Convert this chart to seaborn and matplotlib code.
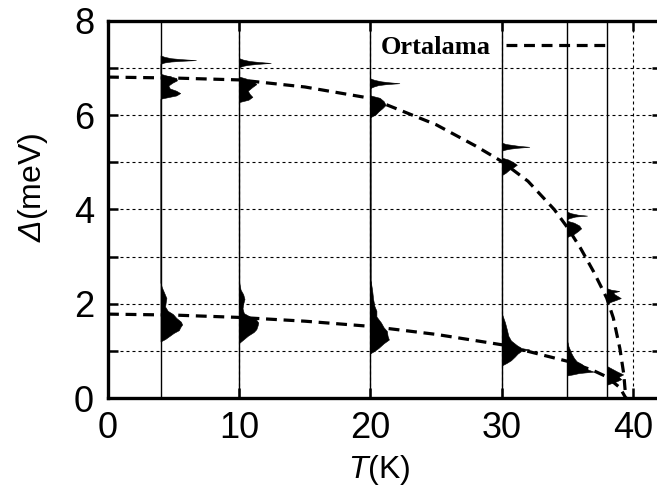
import matplotlib
matplotlib.use("Agg")
import matplotlib.pyplot as plt
import seaborn as sns

# ---- data ----
big_T = [0, 5, 10, 15, 20, 25, 28, 30, 32, 34, 35, 36, 37, 38, 38.5, 39, 39.3, 39.45]
big_gap = [6.81, 6.79, 6.75, 6.6, 6.36, 5.8, 5.35, 5.02, 4.6, 4.0, 3.62, 3.18, 2.68, 2.12, 1.7, 1.05, 0.5, 0.0]
small_T = [0, 5, 10, 15, 20, 25, 30, 33, 35, 37, 38, 39, 39.45]
small_gap = [1.78, 1.76, 1.71, 1.63, 1.52, 1.35, 1.13, 0.92, 0.78, 0.58, 0.45, 0.22, 0.0]

temps = [4, 10, 20, 30, 35, 38]

# gap distributions at each temperature: gap value (meV) and bar length (K)
d4 = [7.27, 7.24, 7.21, 7.19, 7.17, 7.155, 7.14, 7.12, 7.09,
      6.88, 6.84, 6.79, 6.74, 6.69, 6.63, 6.57, 6.52, 6.47, 6.42, 6.38, 6.35,
      2.45, 2.35, 2.22, 2.12, 2.04, 1.94, 1.85, 1.78, 1.70, 1.62, 1.56, 1.50, 1.44, 1.38, 1.32, 1.25, 1.20]
w4 = [0, 0.3, 0.8, 1.6, 2.7, 1.6, 0.8, 0.3, 0,
      0, 0.5, 1.2, 1.25, 0.9, 0.6, 0.7, 1.2, 1.5, 1.2, 0.5, 0,
      0, 0.1, 0.3, 0.45, 0.4, 0.35, 0.55, 0.95, 1.2, 1.55, 1.65, 1.5, 1.4, 1.0, 0.7, 0.35, 0]
d10 = [7.21, 7.18, 7.15, 7.13, 7.11, 7.09, 7.07, 7.05, 7.02,
       6.82, 6.78, 6.72, 6.66, 6.60, 6.52, 6.45, 6.39, 6.33, 6.28,
       2.45, 2.3, 2.2, 2.1, 2.0, 1.9, 1.8, 1.73, 1.66, 1.60, 1.54, 1.46, 1.40, 1.32, 1.25, 1.17]
w10 = [0, 0.3, 0.8, 1.5, 2.4, 1.4, 0.7, 0.3, 0,
       0, 0.5, 1.1, 1.3, 1.0, 0.65, 0.8, 1.0, 0.7, 0,
       0, 0.1, 0.3, 0.4, 0.3, 0.25, 0.35, 0.8, 1.3, 1.45, 1.4, 1.3, 1.1, 0.65, 0.35, 0]
d20 = [6.78, 6.75, 6.72, 6.70, 6.68, 6.66, 6.64, 6.61, 6.58,
       6.42, 6.37, 6.30, 6.22, 6.15, 6.08, 6.02, 5.96,
       2.5, 2.3, 2.1, 1.95, 1.85, 1.73, 1.6, 1.5, 1.42, 1.32, 1.24, 1.16, 1.06, 1.0, 0.95]
w20 = [0, 0.3, 0.8, 1.4, 2.2, 1.2, 0.6, 0.25, 0,
       0, 0.7, 1.0, 1.15, 0.9, 0.6, 0.4, 0,
       0, 0.12, 0.2, 0.3, 0.45, 0.45, 0.8, 1.0, 1.25, 1.3, 1.4, 1.0, 0.6, 0.3, 0]
d30 = [5.42, 5.39, 5.37, 5.35, 5.33, 5.31, 5.29, 5.27, 5.25,
       5.10, 5.06, 5.00, 4.95, 4.90, 4.84, 4.78, 4.73,
       1.8, 1.72, 1.6, 1.44, 1.32, 1.22, 1.12, 1.06, 1.03, 1.0, 0.94, 0.88, 0.80, 0.74, 0.69]
w30 = [0, 0.3, 0.8, 1.3, 2.1, 1.2, 0.6, 0.25, 0,
       0, 0.5, 0.9, 1.15, 0.9, 0.55, 0.3, 0,
       0, 0.1, 0.25, 0.4, 0.5, 0.7, 1.15, 1.5, 2.1, 1.5, 1.2, 1.0, 0.7, 0.35, 0]
d35 = [3.95, 3.92, 3.89, 3.87, 3.85, 3.82, 3.80,
       3.76, 3.72, 3.66, 3.60, 3.54, 3.48, 3.42,
       1.2, 1.1, 0.95, 0.85, 0.78, 0.72, 0.66, 0.60, 0.56, 0.53, 0.50, 0.48]
w35 = [0, 0.3, 0.8, 1.5, 0.6, 0.2, 0,
       0, 0.5, 0.9, 1.05, 0.8, 0.5, 0,
       0, 0.08, 0.3, 0.5, 0.7, 1.1, 1.3, 1.6, 2.0, 0.9, 0.4, 0]
d38 = [2.33, 2.30, 2.27, 2.24, 2.20, 2.15, 2.12, 2.08, 2.04, 2.0,
       0.68, 0.62, 0.56, 0.50, 0.45, 0.40, 0.36, 0.32, 0.28]
w38 = [0, 0.3, 0.95, 0.5, 0.6, 0.9, 1.07, 0.7, 0.3, 0,
       0, 0.4, 0.8, 1.25, 0.9, 1.1, 0.8, 0.4, 0]

gap_lists = [d4, d10, d20, d30, d35, d38]
width_lists = [w4, w10, w20, w30, w35, w38]

x_ticks = [0, 10, 20, 30, 40]
y_ticks = [0, 2, 4, 6, 8]
y_minor = [1, 3, 5, 7]
legend_label = "Ortalama"

# ---- style ----
sns.set_style("ticks")
plt.rcParams["font.family"] = ["Liberation Sans", "DejaVu Sans"]
plt.rcParams["mathtext.fontset"] = "custom"
plt.rcParams["mathtext.rm"] = "Liberation Sans:italic"
plt.rcParams["mathtext.it"] = "Liberation Sans:italic"
for key in ["text.color", "axes.labelcolor", "xtick.color", "ytick.color", "axes.edgecolor"]:
    plt.rcParams[key] = "black"

fig = plt.figure(figsize=(6.57, 4.95), dpi=100)
ax = fig.add_axes([108 / 657, 97 / 495, 554 / 657, 377 / 495])

grid_ls = (0, (2.7, 2.7))
ax.set_axisbelow(True)

# vertical baselines at measured temperatures
for T in temps:
    ax.axvline(T, color="black", lw=1.0, zorder=2)

# distributions
for T, d, w in zip(temps, gap_lists, width_lists):
    ax.fill_betweenx(d, T, [T + v for v in w], color="black", lw=0.4, zorder=3)

# mean curves
dash = (0, (3.4, 2.1))
sns.lineplot(x=big_T, y=big_gap, ax=ax, color="black", lw=2.3, linestyle=dash,
             label=legend_label, sort=False, zorder=4)
sns.lineplot(x=small_T, y=small_gap, ax=ax, color="black", lw=2.3, linestyle=dash,
             sort=False, zorder=4)

ax.set_xlim(0, 554 / 13.125)
ax.set_ylim(0, 8)
ax.set_xticks(x_ticks)
ax.set_yticks(y_ticks)
ax.set_yticks(y_minor, minor=True)
ax.grid(which="both", axis="y", color="black", lw=0.8, ls=grid_ls)
ax.grid(which="major", axis="x", color="black", lw=0.8, ls=grid_ls)

for s in ax.spines.values():
    s.set_linewidth(2.4)
    s.set_visible(True)
    s.set_color("black")

ax.tick_params(which="both", direction="in", top=True, right=True,
               length=7, width=1.8, labelsize=26, colors="black")
ax.tick_params(axis="y", pad=10)
ax.tick_params(axis="x", pad=9)

ax.set_xlabel(r"$T$(K)", fontsize=23)
ax.set_ylabel(r"$\Delta$(meV)", fontsize=23)
ax.xaxis.set_label_coords(0.49, -0.145)
ax.yaxis.set_label_coords(-0.105, 0.56)

leg = ax.legend(loc="center left", bbox_to_anchor=(20.75, 7.44),
                bbox_transform=ax.transData, frameon=False, markerfirst=False,
                borderpad=0, borderaxespad=0, handletextpad=0.6, handlelength=3.9,
                prop={"family": "Liberation Serif", "weight": "bold", "size": 19})

fig.savefig("out.png", dpi=100)
